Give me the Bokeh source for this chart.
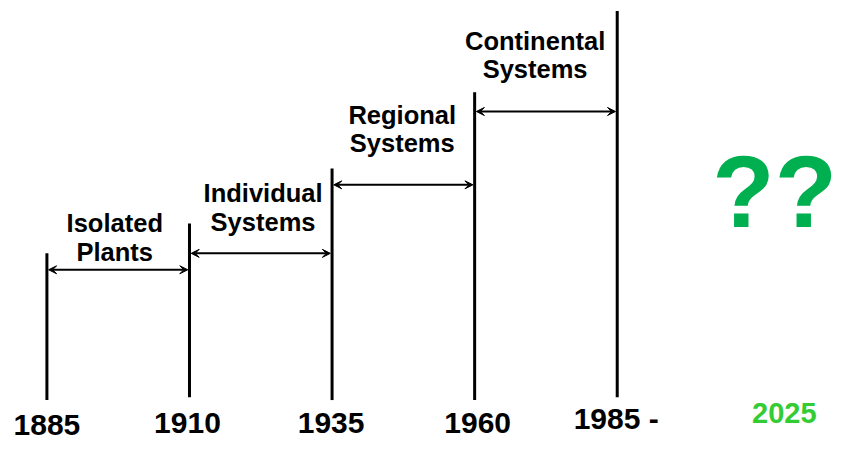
from bokeh.plotting import figure
from bokeh.models import ColumnDataSource, Range1d, Arrow, VeeHead
from bokeh.core.properties import value
from bokeh.embed import file_html
from bokeh.resources import INLINE

# ---- data ----
years = [1885, 1910, 1935, 1960, 1985]
year_labels = ["1885", "1910", "1935", "1960", "1985 -"]
line_tops = [151, 182, 239, 318, 402]        # height of each milestone bar
line_bottoms = [-1, 2, -1, -1, 2]
era_line1 = ["Isolated", "Individual", "Regional", "Continental"]
era_line2 = ["Plants", "Systems", "Systems", "Systems"]
arrow_levels = [134, 151, 222, 298]
future_year = ["2025"]
unknown = ["??"]

# ---- layout (label placement, baselines in plot units) ----
era_x = [1896.9, 1922.9, 1947.3, 1970.6]
era_line1_base = [173, 204, 285, 362]
era_line2_base = [143, 174, 256, 333]
year_base = [-38, -36, -36, -36, -31]
year_dx = [0, -2, -1, 3, -1]
future_x = [2014.3]
future_base = [-25]
unknown_x = [2012.6]
unknown_base = [178]

FONT = value("Liberation Sans")
ERA_FS, YEAR_FS, FUT_FS, Q_FS = 25.5, 30, 29, 102
K = 0.363  # baseline correction per px of font size


def shift(vals, fs):
    return [v + K * fs for v in vals]


p = figure(width=838, height=443,
           x_range=Range1d(1876.862, 2023.80), y_range=Range1d(-46, 413),
           x_axis_type=None, y_axis_type=None,
           output_backend="svg", toolbar_location=None, min_border=0)
p.grid.visible = False
p.outline_line_color = None
p.background_fill_color = "white"
p.border_fill_color = "white"

# milestone bars
p.segment(x0=years, y0=line_bottoms, x1=years, y1=line_tops,
          line_width=3, line_color="black")

# double-headed arrows between milestones
arr_src = ColumnDataSource(dict(
    xs=[y + 0.3 for y in years[:-1]],
    xe=[y - 0.3 for y in years[1:]],
    y=arrow_levels,
))
p.add_layout(Arrow(
    start=VeeHead(size=8, fill_color="black", line_color="black", line_width=1),
    end=VeeHead(size=8, fill_color="black", line_color="black", line_width=1),
    x_start="xs", y_start="y", x_end="xe", y_end="y",
    source=arr_src, line_width=2, line_color="black"))

common = dict(text_align="center", text_baseline="alphabetic",
              text_font=FONT, text_font_style="bold")

# era labels
p.text(x=era_x, y=shift(era_line1_base, ERA_FS), text=era_line1,
       text_font_size=value(f"{ERA_FS}px"), text_color="black", **common)
p.text(x=era_x, y=shift(era_line2_base, ERA_FS), text=era_line2,
       text_font_size=value(f"{ERA_FS}px"), text_color="black", **common)

# year labels
p.text(x=years, y=shift(year_base, YEAR_FS), text=year_labels, x_offset=year_dx,
       text_font_size=value(f"{YEAR_FS}px"), text_color="black", **common)

# future
p.text(x=future_x, y=shift(future_base, FUT_FS), text=future_year,
       text_font_size=value(f"{FUT_FS}px"), text_color="#33CC33", **common)
p.text(x=unknown_x, y=shift(unknown_base, Q_FS), text=unknown,
       text_font_size=value(f"{Q_FS}px"), text_color="#00B050", **common)

open("out.html", "w").write(file_html(p, INLINE))
